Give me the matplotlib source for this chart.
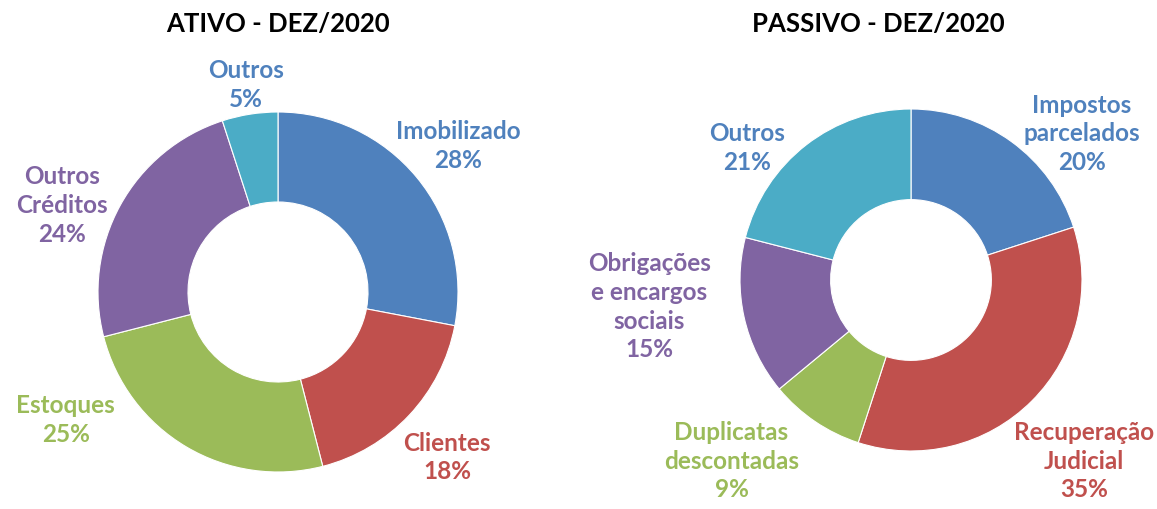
import matplotlib
matplotlib.use("Agg")
import matplotlib.pyplot as plt

# Data
ativo_labels = ["Imobilizado", "Clientes", "Estoques", "Outros\nCréditos", "Outros"]
ativo_values = [28, 18, 25, 24, 5]
passivo_labels = ["Impostos\nparcelados", "Recuperação\nJudicial", "Duplicatas\ndescontadas",
                  "Obrigações\ne encargos\nsociais", "Outros"]
passivo_values = [20, 35, 9, 15, 21]
colors = ["#4F81BD", "#C0504D", "#9BBB59", "#8064A2", "#4BACC6"]
label_colors = ["#4F81BD", "#C0504D", "#9BBB59", "#8064A2", "#4F81BD"]

W, H = 1157, 509
fig = plt.figure(figsize=(W / 100, H / 100), dpi=100)
FONT = "Lato"

def make_ax(cx, cy, r):
    ax = fig.add_axes([(cx - r) / W, (H - cy - r) / H, 2 * r / W, 2 * r / H])
    ax.axis("off")
    return ax

# label positions (in radius units, relative to centre)
ativo_pos = [(1.0, 0.81), (0.94, -0.92), (-1.18, -0.71), (-1.2, 0.48), (-0.18, 1.15)]
passivo_pos = [(1.0, 0.855), (1.01, -1.06), (-1.05, -1.06), (-1.53, -0.157), (-0.96, 0.77)]

def draw(ax, values, labels, pos, hole):
    ax.pie(values, colors=colors, startangle=90, counterclock=False, radius=1,
           wedgeprops=dict(width=1 - hole, edgecolor="white", linewidth=0.8))
    ax.set_xlim(-1, 1)
    ax.set_ylim(-1, 1)
    for v, lab, (x, y), c in zip(values, labels, pos, label_colors):
        ax.text(x, y, f"{lab}\n{v}%", ha="center", va="center", color=c,
                fontsize=17.5, fontweight="bold", family=FONT, linespacing=1.3,
                clip_on=False)

ax1 = make_ax(278, 292, 180)
draw(ax1, ativo_values, ativo_labels, ativo_pos, 0.5)
ax2 = make_ax(911, 280, 171)
draw(ax2, passivo_values, passivo_labels, passivo_pos, 0.47)

fig.text(278 / W, 1 - 24 / H, "ATIVO - DEZ/2020", ha="center", va="center",
         fontsize=18.5, fontweight="bold", family=FONT, color="black")
fig.text(878 / W, 1 - 24 / H, "PASSIVO - DEZ/2020", ha="center", va="center",
         fontsize=18.5, fontweight="bold", family=FONT, color="black")

fig.savefig("out.png", dpi=100, facecolor="white")
